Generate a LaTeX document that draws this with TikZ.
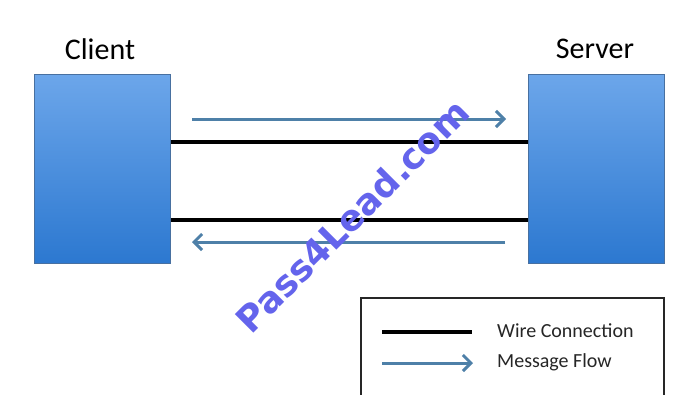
\documentclass[tikz,border=0pt]{standalone}
\usepackage{fontspec}
\setmainfont{Carlito}
\newfontfamily\wmfont{DejaVu Sans}
\usetikzlibrary{arrows.meta}
\definecolor{boxtop}{RGB}{108,166,234}
\definecolor{boxbot}{RGB}{44,120,208}
\definecolor{boxedge}{RGB}{72,112,160}
\definecolor{flow}{RGB}{78,128,168}
\definecolor{wm}{RGB}{100,100,236}
\begin{document}
\begin{tikzpicture}[x=1pt,y=-1pt,
  hostbox/.style={draw=boxedge, line width=1pt, top color=boxtop, bottom color=boxbot,
    minimum width=136pt, minimum height=189pt, inner sep=0pt, anchor=north west},
  hostlabel/.style={font=\fontsize{30}{30}\selectfont, inner sep=0pt},
  wire/.style={line width=3.2pt, black},
  flowarrow/.style={line width=3pt, flow, -{Straight Barb[length=8pt,width=16pt,line width=3pt]}},
  legtext/.style={font=\fontsize{20}{20}\selectfont, anchor=west, inner sep=0pt, text=black!85}
]
\useasboundingbox (0,0) rectangle (680,394);
\clip (0,0) rectangle (680,394);
\fill[white] (0,0) rectangle (680,394);

% hosts
\node[hostbox] (client) at (34,74) {};
\node[hostbox] (server) at (528,74) {};
\node[hostlabel] (clientlbl) at (100,49) {Client};
\node[hostlabel] (serverlbl) at (595,49) {Server};

% wires
\coordinate (wireAs) at (client.east |- 0,142);
\coordinate (wireAe) at (server.west |- 0,142);
\coordinate (wireBs) at (client.east |- 0,220);
\coordinate (wireBe) at (server.west |- 0,220);
\draw[wire] (wireAs) -- (wireAe);
\draw[wire] (wireBs) -- (wireBe);

% message flows
\coordinate (flowAs) at (192,119);
\coordinate (flowAe) at (506,119);
\coordinate (flowBs) at (505,242);
\coordinate (flowBe) at (192,242);
\draw[flowarrow] (flowAs) -- (flowAe);
\draw[flowarrow] (flowBs) -- (flowBe);

% legend
\node[draw=black!85, line width=1.5pt, minimum width=303pt, minimum height=140pt,
  anchor=north west, inner sep=0pt] (legend) at (360,297) {};
\coordinate (legWs) at (382,332);
\coordinate (legWe) at (472,332);
\coordinate (legFs) at (382,363);
\coordinate (legFe) at (473,363);
\draw[wire] (legWs) -- (legWe);
\draw[flowarrow] (legFs) -- (legFe);
\node[legtext] (legWt) at (497,331) {Wire Connection};
\node[legtext] (legFt) at (497,362) {Message Flow};

% watermark
\node[rotate=45, text=wm, font=\wmfont\bfseries\fontsize{36}{36}\selectfont, inner sep=0pt]
  (watermark) at (352,216) {Pass4Lead.com};
\end{tikzpicture}
\end{document}
